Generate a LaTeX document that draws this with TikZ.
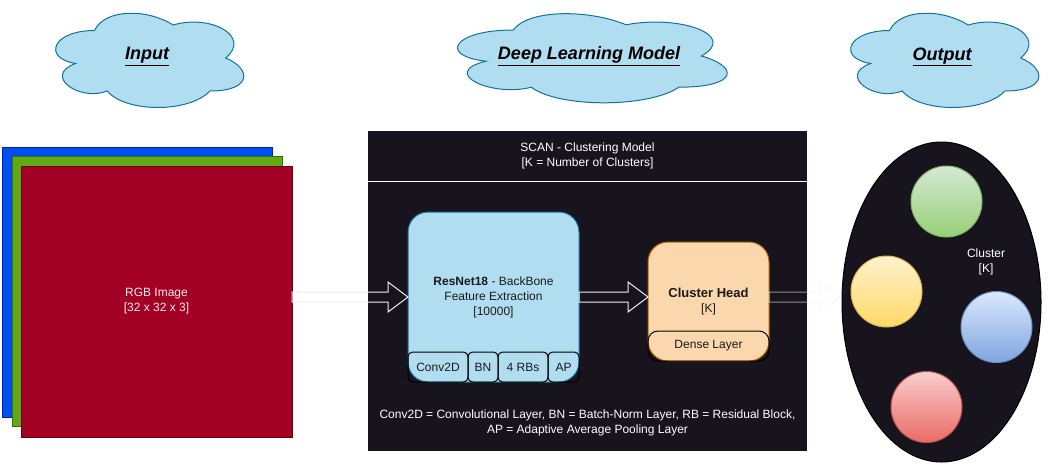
\documentclass[tikz,border=0pt]{standalone}
\usepackage{fontspec}
\setmainfont{Liberation Sans}
\usetikzlibrary{calc,shapes.geometric}
\definecolor{cloudfill}{HTML}{B1DDF0}
\definecolor{cloudline}{HTML}{10739E}
\definecolor{bluesq}{HTML}{0050EF}
\definecolor{bluesqline}{HTML}{001DBC}
\definecolor{greensq}{HTML}{60A917}
\definecolor{greensqline}{HTML}{2D7600}
\definecolor{redsq}{HTML}{A20025}
\definecolor{redsqline}{HTML}{6F0000}
\definecolor{panel}{HTML}{18141D}
\definecolor{headfill}{HTML}{FAD7AC}
\definecolor{headline}{HTML}{B46504}
\definecolor{arrowline}{HTML}{EEEEEE}
\definecolor{textdark}{HTML}{1A1A1A}
\definecolor{gtop}{HTML}{D5E8D4}\definecolor{gbot}{HTML}{97D077}\definecolor{gline}{HTML}{82B366}
\definecolor{ytop}{HTML}{FFF2CC}\definecolor{ybot}{HTML}{FFD966}\definecolor{yline}{HTML}{D6B656}
\definecolor{btop}{HTML}{DAE8FC}\definecolor{bbot}{HTML}{7EA6E0}\definecolor{bline}{HTML}{6C8EBF}
\definecolor{rtop}{HTML}{F8CECC}\definecolor{rbot}{HTML}{EA6B66}\definecolor{rline}{HTML}{B85450}

\tikzset{
  basefont/.style={font=\fontsize{9}{11.25}\selectfont},
  cloudsty/.style={fill=cloudfill, draw=cloudline, line width=0.75pt},
  titletext/.style={font=\fontsize{13.5}{16}\selectfont\bfseries\itshape, text=black},
  square/.style={rectangle, inner sep=0pt, outer sep=0pt, line width=0.75pt,
                 minimum width=202.5pt, minimum height=202.5pt},
  bigbox/.style={rectangle, rounded corners=15pt, inner sep=0pt, outer sep=0pt,
                 line width=0.75pt, align=center, basefont, text=textdark},
  subbox/.style={rectangle, rounded corners=3.5pt, draw=black, line width=0.75pt,
                 inner sep=0pt, outer sep=0pt, minimum height=22.5pt, basefont, text=textdark},
  ball/.style={circle, inner sep=0pt, minimum size=53.25pt, line width=0.75pt},
  hollowarrow/.style={draw=arrowline, line width=0.75pt},
  faintarrow/.style={draw=arrowline, draw opacity=0.55, line width=0.75pt},
  whitetext/.style={basefont, text=white, align=center},
}

% draw.io style cloud: x0 y0 w h
\newcommand\dioCloud[4]{%
  \path[cloudsty, shift={(#1,#2)}, xscale=#3, yscale=#4]
    (0.25,0.25) .. controls (0.05,0.25) and (0,0.5) .. (0.16,0.55)
    .. controls (0,0.66) and (0.18,0.9) .. (0.31,0.8)
    .. controls (0.4,1) and (0.7,1) .. (0.8,0.8)
    .. controls (1,0.8) and (1,0.6) .. (0.875,0.5)
    .. controls (1,0.3) and (0.8,0.1) .. (0.625,0.2)
    .. controls (0.5,0.05) and (0.3,0.05) .. (0.25,0.25) -- cycle;}

% hollow block arrow: style, from, to
\newcommand\blockarrow[3]{%
  \draw[#1] ($(#2)+(0,-5)$) -- ($(#3)+(-20,-5)$) -- ($(#3)+(-20,-15)$) -- (#3)
    -- ($(#3)+(-20,15)$) -- ($(#3)+(-20,5)$) -- ($(#2)+(0,5)$) -- cycle;}

\begin{document}
\begin{tikzpicture}[x=0.75pt, y=-0.75pt]
\useasboundingbox (0,0) rectangle (1048,468);

% clouds
\dioCloud{42}{3}{210}{110}
\node[titletext] (tin) at (147,57) {\underline{Input}};
\dioCloud{438}{4}{301}{104}
\node[titletext] (tdl) at (589,56) {\underline{Deep Learning Model}};
\dioCloud{837}{3}{210}{110}
\node[titletext] (tout) at (942,57) {\underline{Output}};

% RGB image stack
\node[square, fill=bluesq, draw=bluesqline] (sqb) at (137,282) {};
\node[square, fill=greensq, draw=greensqline] (sqg) at (147,291.5) {};
\node[square, fill=redsq, draw=redsqline, minimum width=203.25pt, minimum height=203.25pt,
      whitetext, text=white!92!red] (img) at (156.5,301.5) {RGB Image\\{[}32 x 32 x 3{]}};

% panel
\node[rectangle, fill=panel, inner sep=0pt, outer sep=0pt,
      minimum width=329.25pt, minimum height=240pt] (panel) at (587.5,291) {};
\coordinate (divl) at (368,181);
\coordinate (divr) at (807,181);
\draw[white, line width=0.75pt] (divl) -- (divr);
\node[whitetext] (scan) at (587.5,155.5) {SCAN - Clustering Model\\{[}K = Number of Clusters{]}};
\node[whitetext] (legend) at (587.5,422.5) {Conv2D = Convolutional Layer, BN = Batch-Norm Layer, RB = Residual Block,\\AP = Adaptive Average Pooling Layer};

% ResNet box
\node[bigbox, fill=cloudfill, draw=cloudline, minimum width=128.25pt, minimum height=127.5pt]
  (resnet) at (493.5,297) {\textbf{ResNet18} - BackBone\\Feature Extraction\\{[}10000{]}};
\node[subbox, minimum width=45pt] (conv) at (438,367) {Conv2D};
\node[subbox, minimum width=22.5pt] (bn) at (483,367) {BN};
\node[subbox, minimum width=37.5pt] (rbs) at (523,367) {4 RBs};
\node[subbox, minimum width=23.25pt] (ap) at (563.5,367) {AP};

% Cluster head
\node[bigbox, fill=headfill, draw=headline, minimum width=90.75pt, minimum height=89.25pt]
  (head) at (708.5,301.5) {\textbf{\fontsize{9.75}{11.25}\selectfont Cluster Head}\\{[}K{]}};
\node[subbox, rounded corners=7.5pt, minimum width=90.75pt] (dense) at (708.5,346) {Dense Layer};

% output ellipse
\node[ellipse, fill=panel, draw=black, line width=0.75pt, inner sep=0pt, outer sep=0pt,
      minimum width=149.25pt, minimum height=240pt] (ell) at (941.5,302) {};
\node[ball, top color=gtop, bottom color=gbot, draw=gline] (cg) at (946.5,201.5) {};
\node[ball, top color=ytop, bottom color=ybot, draw=yline] (cy) at (886.5,291.5) {};
\node[ball, top color=btop, bottom color=bbot, draw=bline] (cb) at (996.5,327) {};
\node[ball, top color=rtop, bottom color=rbot, draw=rline] (cr) at (926.5,407) {};
\node[whitetext] (clab) at (986,261.5) {Cluster\\{[}K{]}};

% arrows
\coordinate (a1s) at (img.east |- resnet.west);
\blockarrow{hollowarrow}{a1s}{resnet.west}
\coordinate (a2e) at (head.west |- resnet.east);
\blockarrow{hollowarrow}{resnet.east}{a2e}
\coordinate (a3s) at (head.east |- resnet.east);
\coordinate (a3e) at ($(ell.west |- resnet.east)+(-2,0)$);
\blockarrow{faintarrow}{a3s}{a3e}
\end{tikzpicture}
\end{document}
